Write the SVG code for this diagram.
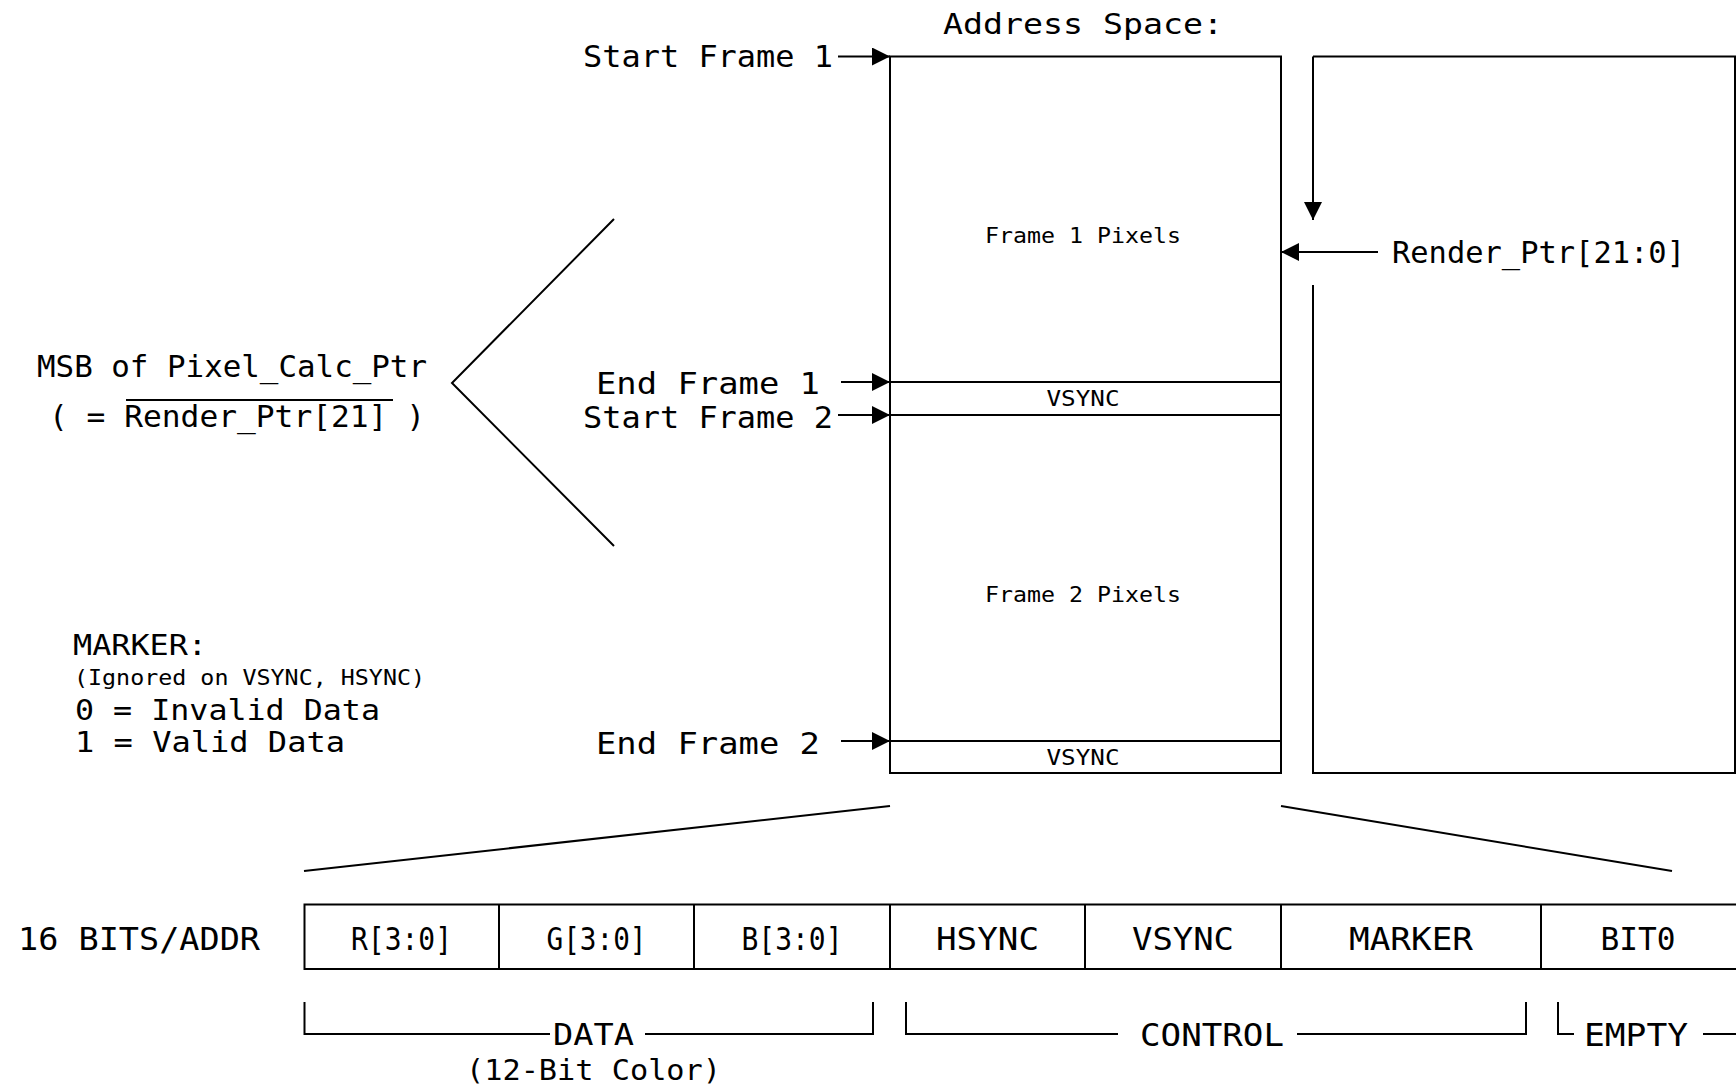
<svg xmlns="http://www.w3.org/2000/svg" width="1736" height="1091" viewBox="0 0 1736 1091">
<style>
.t{font-family:"DejaVu Sans Mono","Liberation Mono",monospace;fill:#000}
.l{font-size:31px}
.s{font-size:22px}
.c{font-size:32px;text-anchor:middle}
.m{text-anchor:middle}
.ln{stroke:#000;stroke-width:2;fill:none}
</style>
<defs>
<marker id="ah" viewBox="0 0 10 10" refX="10" refY="5" markerUnits="userSpaceOnUse" markerWidth="18" markerHeight="18" orient="auto">
<path d="M0,0 L10,5 L0,10 z" fill="#000"/>
</marker>
</defs>
<rect width="1736" height="1091" fill="#fff"/>

<g id="title"><text class="t" x="943" y="34" font-size="29" textLength="280" lengthAdjust="spacingAndGlyphs">Address Space:</text></g>

<g id="address-space">
<rect class="ln" x="890" y="56.5" width="391" height="716.5"/>
<line class="ln" x1="890" y1="382" x2="1281" y2="382"/>
<line class="ln" x1="890" y1="415" x2="1281" y2="415"/>
<line class="ln" x1="890" y1="741" x2="1281" y2="741"/>
<text class="t s m" x="1083" y="243" textLength="196" lengthAdjust="spacingAndGlyphs">Frame 1 Pixels</text>
<text class="t s m" x="1083" y="406" textLength="73" lengthAdjust="spacingAndGlyphs">VSYNC</text>
<text class="t s m" x="1083" y="602" textLength="196" lengthAdjust="spacingAndGlyphs">Frame 2 Pixels</text>
<text class="t s m" x="1083" y="765" textLength="73" lengthAdjust="spacingAndGlyphs">VSYNC</text>
</g>

<g id="second-space">
<path class="ln" d="M1313,285 V773 H1735 V56.5 H1313"/>
</g>

<g id="labels">
<text class="t l" x="583" y="67" textLength="250" lengthAdjust="spacingAndGlyphs">Start Frame 1</text>
<text class="t l" x="596" y="394" textLength="224" lengthAdjust="spacingAndGlyphs">End Frame 1</text>
<text class="t l" x="583" y="428" textLength="250" lengthAdjust="spacingAndGlyphs">Start Frame 2</text>
<text class="t l" x="596" y="754" textLength="224" lengthAdjust="spacingAndGlyphs">End Frame 2</text>
<text class="t l" x="1392" y="263" textLength="293" lengthAdjust="spacingAndGlyphs">Render_Ptr[21:0]</text>
</g>

<g id="msb">
<text class="t" font-size="30" x="37" y="377" textLength="390" lengthAdjust="spacingAndGlyphs">MSB of Pixel_Calc_Ptr</text>
<text class="t" font-size="30" x="49" y="427" textLength="376" lengthAdjust="spacingAndGlyphs">( = Render_Ptr[21] )</text>
<line class="ln" x1="126" y1="400" x2="393" y2="400"/>
</g>

<g id="marker-legend">
<text class="t" font-size="29" x="73" y="655" textLength="134" lengthAdjust="spacingAndGlyphs">MARKER:</text>
<text class="t" font-size="21" x="74" y="685" textLength="351" lengthAdjust="spacingAndGlyphs">(Ignored on VSYNC, HSYNC)</text>
<text class="t" font-size="29" x="75" y="720" textLength="305" lengthAdjust="spacingAndGlyphs">0 = Invalid Data</text>
<text class="t" font-size="29" x="75" y="752" textLength="270" lengthAdjust="spacingAndGlyphs">1 = Valid Data</text>
</g>

<g id="bitfield">
<text class="t" font-size="32" x="18" y="950" textLength="242" lengthAdjust="spacingAndGlyphs">16 BITS/ADDR</text>
<path class="ln" d="M1740,904.5 H304.5 V969 H1740"/>
<line class="ln" x1="499" y1="904.5" x2="499" y2="969"/>
<line class="ln" x1="694" y1="904.5" x2="694" y2="969"/>
<line class="ln" x1="890" y1="904.5" x2="890" y2="969"/>
<line class="ln" x1="1085" y1="904.5" x2="1085" y2="969"/>
<line class="ln" x1="1281" y1="904.5" x2="1281" y2="969"/>
<line class="ln" x1="1541" y1="904.5" x2="1541" y2="969"/>
<text class="t c" x="401.5" y="950" textLength="101" lengthAdjust="spacingAndGlyphs">R[3:0]</text>
<text class="t c" x="596.5" y="950" textLength="100" lengthAdjust="spacingAndGlyphs">G[3:0]</text>
<text class="t c" x="792" y="950" textLength="101" lengthAdjust="spacingAndGlyphs">B[3:0]</text>
<text class="t c" x="987.5" y="950" textLength="103" lengthAdjust="spacingAndGlyphs">HSYNC</text>
<text class="t c" x="1183" y="950" textLength="102" lengthAdjust="spacingAndGlyphs">VSYNC</text>
<text class="t c" x="1411" y="950" textLength="124" lengthAdjust="spacingAndGlyphs">MARKER</text>
<text class="t c" x="1638" y="950" textLength="75" lengthAdjust="spacingAndGlyphs">BIT0</text>
</g>

<g id="groups">
<path class="ln" d="M550,1034 H304.5 V1002"/>
<path class="ln" d="M645,1034 H873 V1002"/>
<text class="t m" font-size="30" x="593.5" y="1045" textLength="81" lengthAdjust="spacingAndGlyphs">DATA</text>
<text class="t m" font-size="29" x="593.5" y="1080" textLength="255" lengthAdjust="spacingAndGlyphs">(12-Bit Color)</text>
<path class="ln" d="M1118,1034 H906 V1002"/>
<path class="ln" d="M1297,1034 H1526 V1002"/>
<text class="t c" x="1212" y="1046" textLength="144" lengthAdjust="spacingAndGlyphs">CONTROL</text>
<path class="ln" d="M1574,1034 H1558 V1002"/>
<path class="ln" d="M1703,1034 H1740"/>
<text class="t c" x="1636" y="1046" textLength="104" lengthAdjust="spacingAndGlyphs">EMPTY</text>
</g>

<g id="connectors">
<line class="ln" x1="838" y1="56.5" x2="890" y2="56.5" marker-end="url(#ah)"/>
<line class="ln" x1="841" y1="382" x2="890" y2="382" marker-end="url(#ah)"/>
<line class="ln" x1="838" y1="415" x2="890" y2="415" marker-end="url(#ah)"/>
<line class="ln" x1="841" y1="741" x2="890" y2="741" marker-end="url(#ah)"/>
<line class="ln" x1="1378" y1="252" x2="1281" y2="252" marker-end="url(#ah)"/>
<line class="ln" x1="1313" y1="56.5" x2="1313" y2="220" marker-end="url(#ah)"/>
<polyline class="ln" points="614,219 452,383 614,546"/>
<line class="ln" x1="890" y1="806" x2="304" y2="871"/>
<line class="ln" x1="1281" y1="806" x2="1672" y2="871"/>
</g>
</svg>
